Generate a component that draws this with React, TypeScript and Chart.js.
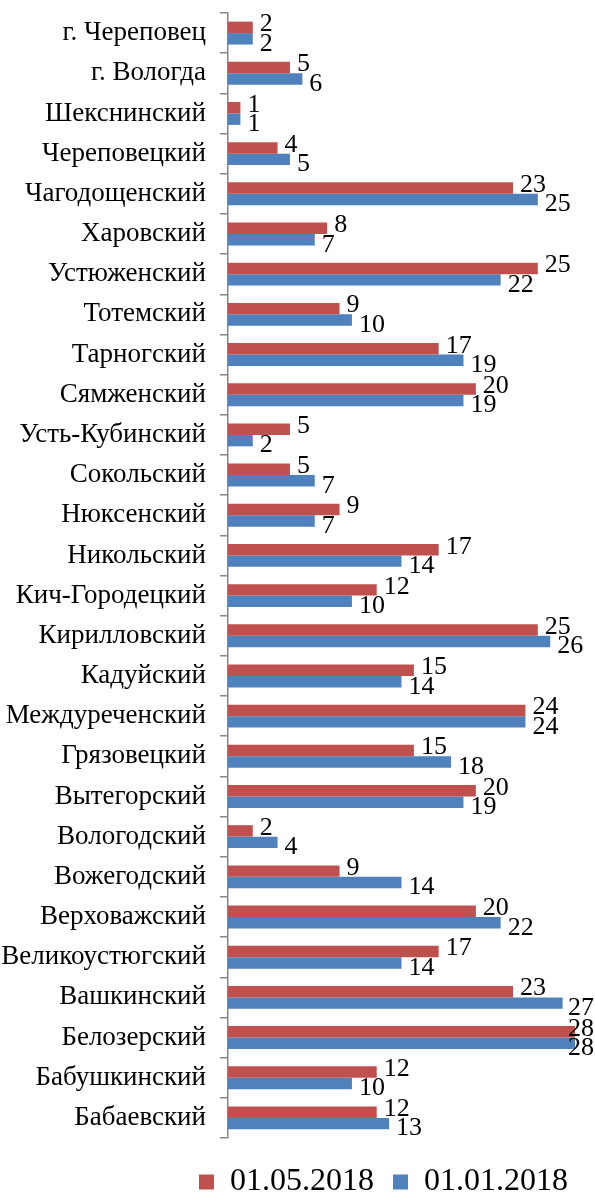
import React, { useEffect, useRef } from "react";
import { Chart, registerables } from "chart.js";

Chart.register(...registerables);

const categories = [
  "г. Череповец",
  "г. Вологда",
  "Шекснинский",
  "Череповецкий",
  "Чагодощенский",
  "Харовский",
  "Устюженский",
  "Тотемский",
  "Тарногский",
  "Сямженский",
  "Усть-Кубинский",
  "Сокольский",
  "Нюксенский",
  "Никольский",
  "Кич-Городецкий",
  "Кирилловский",
  "Кадуйский",
  "Междуреченский",
  "Грязовецкий",
  "Вытегорский",
  "Вологодский",
  "Вожегодский",
  "Верховажский",
  "Великоустюгский",
  "Вашкинский",
  "Белозерский",
  "Бабушкинский",
  "Бабаевский",
];

const may2018 = [2, 5, 1, 4, 23, 8, 25, 9, 17, 20, 5, 5, 9, 17, 12, 25, 15, 24, 15, 20, 2, 9, 20, 17, 23, 28, 12, 12];
const jan2018 = [2, 6, 1, 5, 25, 7, 22, 10, 19, 19, 2, 7, 7, 14, 10, 26, 14, 24, 18, 19, 4, 14, 22, 14, 27, 28, 10, 13];

const seriesNames = ["01.05.2018", "01.01.2018"];
const seriesColors = ["#C0504D", "#4F81BD"];
const xMin = 0;
const xMax = 28;

const FONT = "'Liberation Serif', 'Times New Roman', serif";
const LEGEND_SHIFT_X = 12;
const LEGEND_SHIFT_Y = 9;

const valueLabels = {
  id: "valueLabels",
  afterDatasetsDraw(chart: any) {
    const ctx = chart.ctx;
    ctx.save();
    ctx.font = `26px ${FONT}`;
    ctx.fillStyle = "#000";
    ctx.textAlign = "left";
    ctx.textBaseline = "middle";
    chart.data.datasets.forEach((ds: any, di: number) => {
      const meta = chart.getDatasetMeta(di);
      meta.data.forEach((bar: any, i: number) => {
        const text = String(ds.data[i]);
        const w = ctx.measureText(text).width;
        let x = bar.x + 7;
        if (x + w > chart.width - 1) x = chart.width - 1 - w;
        ctx.fillText(text, x, bar.y + (di === 0 ? -3 : 5));
      });
    });
    ctx.restore();
  },
};

const legendShift = {
  id: "legendShift",
  afterLayout(chart: any) {
    const lg = chart.legend;
    if (!lg) return;
    lg.left += LEGEND_SHIFT_X;
    lg.right += LEGEND_SHIFT_X;
    lg.top += LEGEND_SHIFT_Y;
    lg.bottom += LEGEND_SHIFT_Y;
  },
};

export default function App() {
  const canvasRef = useRef<HTMLCanvasElement | null>(null);

  useEffect(() => {
    document.body.style.margin = "0";
    const canvas = canvasRef.current;
    if (!canvas) return;
    const chart = new Chart(canvas, {
      type: "bar",
      data: {
        labels: categories,
        datasets: [
          {
            label: seriesNames[0],
            data: may2018,
            backgroundColor: seriesColors[0],
            borderWidth: 0,
            categoryPercentage: 0.57,
            barPercentage: 1.0,
          },
          {
            label: seriesNames[1],
            data: jan2018,
            backgroundColor: seriesColors[1],
            borderWidth: 0,
            categoryPercentage: 0.57,
            barPercentage: 1.0,
          },
        ],
      },
      options: {
        indexAxis: "y",
        responsive: false,
        maintainAspectRatio: false,
        animation: false,
        devicePixelRatio: 1,
        layout: { padding: { top: 13, right: 20, left: 0, bottom: 0 } },
        plugins: {
          legend: {
            display: true,
            position: "bottom",
            align: "end",
            labels: {
              boxWidth: 15,
              boxHeight: 15,
              padding: 19,
              color: "#000",
              font: { family: FONT, size: 32 },
            },
          },
          tooltip: { enabled: false },
          title: { display: false },
        },
        scales: {
          x: {
            display: false,
            min: xMin,
            max: xMax,
          },
          y: {
            grid: {
              drawOnChartArea: false,
              drawTicks: true,
              tickLength: 8,
              color: "#868686",
              lineWidth: 1.5,
            },
            border: { display: true, color: "#868686", width: 1.5 },
            ticks: {
              autoSkip: false,
              color: "#000",
              padding: 14,
              font: { family: FONT, size: 27 },
            },
            afterFit: (scale: any) => {
              scale.width = 228;
              scale.paddingTop = 0;
              scale.paddingBottom = 0;
            },
          },
        },
      },
      plugins: [valueLabels, legendShift],
    });
    return () => chart.destroy();
  }, []);

  return (
    <div style={{ position: "absolute", left: 0, top: 0, width: 595, height: 1199, background: "#fff" }}>
      <canvas ref={canvasRef} width={595} height={1199} style={{ width: 595, height: 1199, display: "block" }} />
    </div>
  );
}
